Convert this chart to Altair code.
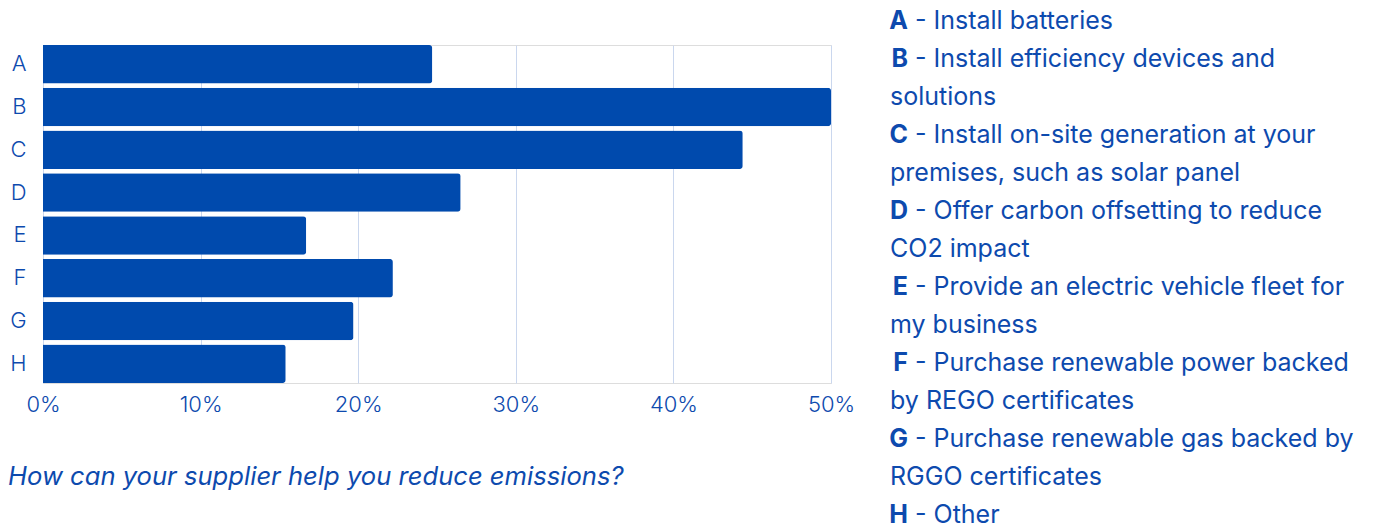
import altair as alt
import pandas as pd

# Survey answers: share of respondents choosing each option (percent)
letters = ["A", "B", "C", "D", "E", "F", "G", "H"]
shares = [24.7, 50.0, 44.4, 26.5, 16.7, 22.2, 19.7, 15.4]

# Key text, one list of wrapped lines per option (the letter is drawn in bold)
key_lines = [
    ["Install batteries"],
    ["Install efficiency devices and", "solutions"],
    ["Install on-site generation at your", "premises, such as solar panel"],
    ["Offer carbon offsetting to reduce", "CO2 impact"],
    ["Provide an electric vehicle fleet for", "my business"],
    ["Purchase renewable power backed", "by REGO certificates"],
    ["Purchase renewable gas backed by", "RGGO certificates"],
    ["Other"],
]
question = "How can your supplier help you reduce emissions?"

BLUE = "#004aad"
TEXT = "#0d4aae"
GRID = "#cad7ee"
AXIS_FONT = "Inter"
KEY_FONT = "Inter"
KEY_SIZE = 25

bars_df = pd.DataFrame({"option": letters, "share": [s / 100 for s in shares]})

# One row per printed key line; first line of each option carries its letter
key_rows = []
row = 0
for letter, lines in zip(letters, key_lines):
    for j, line in enumerate(lines):
        first = j == 0
        key_rows.append({
            "row": row,
            "letter": letter if first else "",
            "rest": ("- " + line) if first else "",
            "wrapped": "" if first else line,
        })
        row += 1
key_df = pd.DataFrame(key_rows)
n_rows = len(key_df)

bars = alt.Chart(bars_df).mark_bar(color=BLUE, cornerRadiusEnd=3).encode(
    x=alt.X(
        "share:Q",
        scale=alt.Scale(domain=[0, 0.5], nice=False),
        axis=alt.Axis(
            format="%", values=[0, 0.1, 0.2, 0.3, 0.4, 0.5], title=None,
            ticks=False, domain=False, grid=True, gridColor=GRID, gridWidth=1,
            labelFont=AXIS_FONT, labelFontSize=22, labelFontWeight=300,
            labelColor=TEXT, labelPadding=11, labelFlush=False,
        ),
    ),
    y=alt.Y(
        "option:N",
        sort=letters,
        scale=alt.Scale(paddingInner=0.1, paddingOuter=0),
        axis=alt.Axis(
            title=None, ticks=False, domain=False, grid=False,
            labelFont=AXIS_FONT, labelFontSize=22, labelFontWeight=300,
            labelColor=TEXT, labelPadding=17,
        ),
    ),
)

key_y = alt.Y(
    "row:Q",
    scale=alt.Scale(domain=[0, n_rows - 1], range=[-16, 478]),
    axis=None,
)

key_letters = alt.Chart(key_df).mark_text(
    align="right", baseline="alphabetic", font=KEY_FONT, fontSize=KEY_SIZE,
    fontWeight="bold", color=TEXT
).encode(x=alt.value(865), y=key_y, text="letter:N")

key_rest = alt.Chart(key_df).mark_text(
    align="left", baseline="alphabetic", font=KEY_FONT, fontSize=KEY_SIZE,
    color=TEXT
).encode(x=alt.value(872), y=key_y, text="rest:N")

key_wrapped = alt.Chart(key_df).mark_text(
    align="left", baseline="alphabetic", font=KEY_FONT, fontSize=KEY_SIZE,
    color=TEXT
).encode(x=alt.value(847), y=key_y, text="wrapped:N")

caption = alt.Chart(pd.DataFrame({"q": [question]})).mark_text(
    align="left", baseline="alphabetic", font=KEY_FONT, fontSize=25.6,
    fontStyle="italic", color=TEXT
).encode(x=alt.value(-35), y=alt.value(440), text="q:N")

chart = (
    alt.layer(bars, key_letters, key_rest, key_wrapped, caption)
    .resolve_scale(y="independent")
    .properties(
        width=788,
        height=338,
        autosize=alt.AutoSizeParams(type="none"),
        padding={"left": 43, "top": 45, "right": 550, "bottom": 145},
    )
    .configure_view(stroke=None)
    .configure(background="white")
)

chart.save("out.html", embed_options={"renderer": "svg", "actions": False})
